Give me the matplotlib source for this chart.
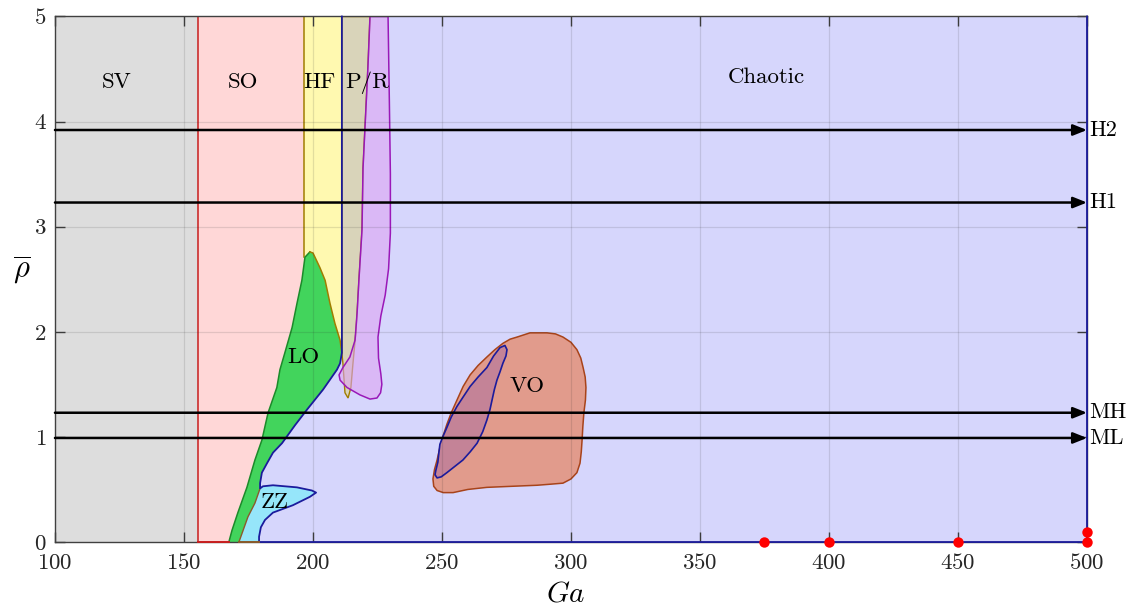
import numpy as np
import matplotlib
matplotlib.use("Agg")
import matplotlib.pyplot as plt
from matplotlib.patches import Polygon, Rectangle

plt.rcParams['font.family'] = ['cmr10', 'DejaVu Serif']
plt.rcParams['mathtext.fontset'] = 'cm'
plt.rcParams['axes.formatter.use_mathtext'] = True

# ---------------- regime boundaries (Ga, rho) ----------------
ga_min, ga_max = 100, 500
rho_min, rho_max = 0, 5
so_start = 155.3      # SV -> SO
hf_start = 196.5      # SO -> HF
chaos_start = 211.2   # HF -> P/R / chaotic

# left edge of LO, from the bottom up to its peak
lo_left_ga = [167.4, 168.6, 170.9, 174.4, 177.5, 180.2, 182.6, 186.0, 187.2,
              189.1, 191.9, 193.8, 195.7, 196.9, 198.8]
lo_left_rho = [0.00, 0.11, 0.28, 0.52, 0.78, 0.97, 1.23, 1.47, 1.64,
               1.80, 2.04, 2.27, 2.49, 2.71, 2.76]
# LO / HF interface, from the peak down to the chaotic boundary
lo_top_ga = [198.8, 200.0, 202.7, 204.7, 206.6, 208.5, 210.5, 211.2]
lo_top_rho = [2.76, 2.75, 2.61, 2.49, 2.27, 2.08, 1.92, 1.80]
# LO / chaotic interface, down to the top of ZZ
lo_chaos_ga = [211.2, 210.5, 209.3, 203.9, 197.7, 193.0, 188.0, 184.5, 182.2,
               180.2, 179.5, 179.5]
lo_chaos_rho = [1.80, 1.70, 1.64, 1.45, 1.26, 1.11, 0.94, 0.85, 0.75,
                0.66, 0.56, 0.51]
# ZZ / chaotic interface, around the ZZ tongue down to rho = 0
zz_chaos_ga = [179.5, 180.6, 184.5, 193.8, 199.6, 201.2, 198.8, 192.2, 184.5,
               181.4, 179.8, 179.1, 179.1]
zz_chaos_rho = [0.51, 0.53, 0.54, 0.52, 0.49, 0.47, 0.43, 0.35, 0.28,
                0.21, 0.14, 0.05, 0.00]
# LO / ZZ interface
zz_lo_ga = [179.5, 177.5, 174.8, 171.3]
zz_lo_rho = [0.51, 0.37, 0.24, 0.00]

# P/R band and the purple pocket
pr_ga = [211.2, 222.1, 221.3, 219.4, 219.0, 217.8, 217.1, 216.7, 215.5, 214.7,
         213.6, 212.4, 211.6, 211.2]
pr_rho = [5.0, 5.0, 4.52, 3.56, 2.97, 2.49, 2.18, 2.02, 1.70, 1.47,
          1.37, 1.42, 1.70, 1.80]
pocket_ga = [222.1, 229.1, 229.6, 230.0, 230.0, 229.3, 228.0, 226.3, 225.2,
             225.4, 226.3, 226.7, 226.2, 224.8, 222.1, 218.2, 213.2, 210.5,
             210.1, 211.6, 214.3, 216.3, 217.1, 217.8, 219.0, 219.4, 221.3]
pocket_rho = [5.0, 5.0, 4.20, 3.50, 2.94, 2.60, 2.35, 2.15, 1.95,
              1.75, 1.60, 1.50, 1.42, 1.37, 1.36, 1.40, 1.47, 1.54,
              1.59, 1.66, 1.76, 1.92, 2.18, 2.49, 2.97, 3.56, 4.52]

# VO island and its inner sub-region
vo_ga = [279.1, 284.1, 290.7, 294.0, 296.9, 300.0, 302.3, 303.8, 304.7, 305.5,
         305.8, 305.6, 305.0, 304.6, 304.3, 304.0, 303.5, 302.3, 300.0, 296.9,
         292.0, 286.8, 277.0, 267.4, 260.0, 254.3, 250.5, 248.1, 246.8, 246.5,
         247.1, 248.1, 249.2, 250.3, 251.9, 253.6, 255.8, 258.2, 260.9, 264.0,
         267.4, 270.5, 273.6, 276.4]
vo_rho = [1.95, 1.99, 1.99, 1.98, 1.95, 1.90, 1.83, 1.75, 1.66, 1.57,
          1.47, 1.35, 1.23, 1.10, 0.97, 0.86, 0.75, 0.66, 0.60, 0.56,
          0.55, 0.54, 0.53, 0.52, 0.50, 0.47, 0.47, 0.49, 0.53, 0.60,
          0.69, 0.78, 0.90, 1.00, 1.12, 1.23, 1.35, 1.48, 1.59, 1.68,
          1.76, 1.83, 1.89, 1.93]
vo_in_ga = [274.4, 275.2, 274.8, 273.6, 272.5, 271.3, 270.3, 269.4, 268.6, 267.4,
            265.8, 263.6, 261.0, 258.1, 255.0, 251.9, 249.7, 248.1, 247.3, 247.6,
            248.4, 248.8, 249.2, 250.3, 251.9, 253.6, 255.8, 258.2, 260.9, 264.0,
            267.4, 270.0, 272.5]
vo_in_rho = [1.87, 1.83, 1.77, 1.70, 1.62, 1.54, 1.45, 1.35, 1.26, 1.16,
             1.05, 0.94, 0.86, 0.78, 0.72, 0.66, 0.62, 0.61, 0.64, 0.68,
             0.76, 0.85, 0.93, 1.00, 1.09, 1.19, 1.29, 1.38, 1.48, 1.57,
             1.66, 1.77, 1.85]

# simulation paths and sample points
path_names = ['H2', 'H1', 'MH', 'ML']
path_rho = [3.92, 3.23, 1.23, 0.99]
sample_ga = [375, 400, 450, 500, 500]
sample_rho = [0.0, 0.0, 0.0, 0.0, 0.1]

# region labels
region_names = ['SV', 'SO', 'HF', 'P/R', 'Chaotic', 'LO', 'VO', 'ZZ']
region_ga = [124.0, 172.9, 202.5, 221.0, 375.6, 196.1, 282.9, 185.3]
region_rho = [4.37, 4.37, 4.37, 4.37, 4.42, 1.76, 1.48, 0.38]

xticks = [100, 150, 200, 250, 300, 350, 400, 450, 500]
yticks = [0, 1, 2, 3, 4, 5]

# ---------------- colours ----------------
c_sv = '#dddddd'
c_so, e_so = '#ffd7d7', '#c81e1e'
c_hf, e_hf = '#fff9b0', '#a07d00'
c_ch, e_ch = '#d6d6fc', '#1b1b9c'
c_pr = '#d9d4ba'
c_pk, e_pk = '#dda4f2', '#9a18b8'
c_lo, e_lo = '#42d45c', '#1c8a2a'
c_zz = '#96e6fa'
c_vo, e_vo = '#e19b8c', '#a8431a'
c_vi = '#c48397'

fig = plt.figure(figsize=(11.31, 6.13), dpi=100)
ax = fig.add_axes([0.0486, 0.1158, 0.9125, 0.8573])
ax.set_xlim(ga_min, ga_max)
ax.set_ylim(rho_min, rho_max)

# background regimes
ax.add_patch(Rectangle((ga_min, rho_min), so_start - ga_min, rho_max, fc=c_sv, ec='none', zorder=0.5))
ax.add_patch(Rectangle((so_start, rho_min), chaos_start - so_start, rho_max, fc=c_so, ec='none', zorder=0.6))
ax.add_patch(Rectangle((hf_start, rho_min), chaos_start - hf_start, rho_max, fc=c_hf, ec='none', zorder=0.7))
ax.plot([so_start, so_start], [rho_min, rho_max], color=e_so, lw=1.1, zorder=1.0)
ax.plot([so_start, lo_left_ga[0]], [0, 0], color=e_so, lw=1.4, zorder=3.1, clip_on=False)
ax.plot([hf_start, hf_start], [lo_left_rho[-2], rho_max], color=e_hf, lw=1.1, zorder=1.0)

# chaotic regime
ch_x = [chaos_start] + lo_chaos_ga + zz_chaos_ga[1:] + [ga_max, ga_max, chaos_start]
ch_y = [rho_max] + lo_chaos_rho + zz_chaos_rho[1:] + [0, rho_max, rho_max]
ax.add_patch(Polygon(np.column_stack([ch_x, ch_y]), closed=True, fc=c_ch, ec='none', zorder=0.8))

# P/R band and pocket
ax.add_patch(Polygon(np.column_stack([pr_ga, pr_rho]), closed=True, fc=c_pr, ec=e_hf, lw=1.0, zorder=0.9))
ax.add_patch(Polygon(np.column_stack([pocket_ga, pocket_rho]), closed=True, fc=c_pk, alpha=0.6,
                     ec='none', zorder=0.95))
ax.add_patch(Polygon(np.column_stack([pocket_ga, pocket_rho]), closed=True, fill=False,
                     ec=e_pk, lw=1.1, zorder=0.96, joinstyle='round'))

# LO
lo_x = lo_left_ga + lo_top_ga[1:] + lo_chaos_ga[1:] + zz_lo_ga[1:]
lo_y = lo_left_rho + lo_top_rho[1:] + lo_chaos_rho[1:] + zz_lo_rho[1:]
ax.add_patch(Polygon(np.column_stack([lo_x, lo_y]), closed=True, fc=c_lo, ec='none', zorder=1.1))
ax.plot(lo_left_ga, lo_left_rho, color=e_lo, lw=1.1, zorder=1.2)
ax.plot(lo_top_ga, lo_top_rho, color=e_hf, lw=1.1, zorder=1.2)

# ZZ
zz_x = zz_chaos_ga + zz_lo_ga[::-1]
zz_y = zz_chaos_rho + zz_lo_rho[::-1]
ax.add_patch(Polygon(np.column_stack([zz_x, zz_y]), closed=True, fc=c_zz, ec='none', zorder=1.1))
ax.plot(zz_lo_ga, zz_lo_rho, color='#8a5a2a', lw=1.0, zorder=1.2)
ax.plot([zz_lo_ga[-1], zz_chaos_ga[-1]], [0, 0], color='#8a5a2a', lw=1.4, zorder=3.1, clip_on=False)

# chaotic boundary line
bx = [chaos_start] + lo_chaos_ga + zz_chaos_ga[1:] + [ga_max, ga_max]
by = [rho_max] + lo_chaos_rho + zz_chaos_rho[1:] + [0, rho_max]
ax.plot(bx, by, color=e_ch, lw=1.3, zorder=3.0, clip_on=False, solid_joinstyle='round')

# VO
ax.add_patch(Polygon(np.column_stack([vo_ga, vo_rho]), closed=True, fc=c_vo, ec=e_vo, lw=1.1,
                     zorder=1.3, joinstyle='round'))
ax.add_patch(Polygon(np.column_stack([vo_in_ga, vo_in_rho]), closed=True, fc=c_vi, ec=e_ch, lw=1.2,
                     zorder=1.4, joinstyle='round'))

# grid over the filled regions
for gx in xticks[1:-1]:
    ax.axvline(gx, color='#262626', alpha=0.13, lw=0.9, zorder=1.8)
for gy in yticks[1:-1]:
    ax.axhline(gy, color='#262626', alpha=0.13, lw=0.9, zorder=1.8)

# simulation paths
for name, r in zip(path_names, path_rho):
    ax.annotate('', xy=(ga_max, r), xytext=(ga_min, r),
                arrowprops=dict(arrowstyle='-|>,head_length=0.55,head_width=0.22', lw=1.8,
                                color='k', mutation_scale=15, shrinkA=0, shrinkB=0),
                zorder=4, annotation_clip=False)
    ax.text(ga_max + 1.0, r, name, ha='left', va='center', fontsize=16, zorder=4, clip_on=False)

ax.plot(sample_ga, sample_rho, 'o', color='#ff0000', ms=7.5, mec='none', zorder=5, clip_on=False)

for name, gx, gy in zip(region_names, region_ga, region_rho):
    ax.text(gx, gy, name, ha='center', va='center', fontsize=16.5, zorder=4)

# axes styling
ax.set_xticks(xticks)
ax.set_yticks(yticks)
ax.tick_params(direction='in', length=7, width=1.0, color='#404040', labelsize=16.5,
               top=True, right=True, labelcolor='#262626')
ax.tick_params(axis='x', pad=8)
ax.tick_params(axis='y', pad=6)
for side in ['left', 'top', 'bottom', 'right']:
    ax.spines[side].set_color('#404040')
    ax.spines[side].set_linewidth(1.0)

ax.set_xlabel(r'$Ga$', fontsize=21)
ax.xaxis.set_label_coords(0.495, -0.075)
ax.set_ylabel(r'$\overline{\rho}$', fontsize=22, rotation=0)
ax.yaxis.set_label_coords(-0.032, 0.485)

fig.savefig('out.png', dpi=100)
